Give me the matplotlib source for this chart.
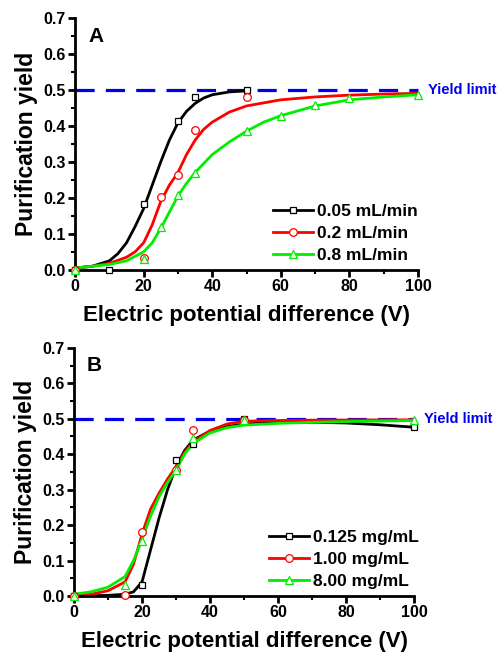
import matplotlib
matplotlib.use("Agg")
import matplotlib.pyplot as plt
from matplotlib.ticker import MultipleLocator

plt.rcParams['font.family'] = ['Liberation Sans', 'DejaVu Sans']
plt.rcParams['font.weight'] = 'bold'

# ---------- Panel A data (flow rate) ----------
a_labels = ["0.05 mL/min", "0.2 mL/min", "0.8 mL/min"]
a_pts_x = [
    [0, 10, 20, 30, 35, 50],
    [0, 20, 25, 30, 35, 50],
    [0, 20, 25, 30, 35, 50, 60, 70, 80, 100],
]
a_pts_y = [
    [0.0, 0.0, 0.183, 0.414, 0.481, 0.498],
    [0.0, 0.034, 0.201, 0.264, 0.389, 0.481],
    [0.0, 0.03, 0.12, 0.208, 0.268, 0.386, 0.426, 0.458, 0.477, 0.486],
]
a_fit_x = [
    [0, 5, 10, 12.5, 15, 17.5, 20, 22.5, 25, 27.5, 30, 32.5, 35, 37.5, 40, 45, 50],
    [0, 5, 10, 15, 17.5, 20, 22.5, 25, 27.5, 30, 32.5, 35, 37.5, 40, 45, 50, 60, 70, 80, 90, 100],
    [0, 10, 15, 20, 22.5, 25, 27.5, 30, 32.5, 35, 40, 45, 50, 55, 60, 70, 80, 90, 100],
]
a_fit_y = [
    [0.005, 0.01, 0.025, 0.045, 0.075, 0.12, 0.17, 0.235, 0.30, 0.36, 0.408, 0.44, 0.462, 0.477, 0.486, 0.494, 0.497],
    [0.005, 0.01, 0.018, 0.035, 0.05, 0.075, 0.125, 0.19, 0.235, 0.27, 0.32, 0.36, 0.39, 0.41, 0.438, 0.455, 0.472, 0.48, 0.485, 0.488, 0.49],
    [0.005, 0.015, 0.025, 0.05, 0.075, 0.115, 0.16, 0.205, 0.24, 0.27, 0.32, 0.355, 0.385, 0.41, 0.428, 0.455, 0.472, 0.48, 0.486],
]

# ---------- Panel B data (concentration) ----------
b_labels = ["0.125 mg/mL", "1.00 mg/mL", "8.00 mg/mL"]
b_pts_x = [
    [0, 20, 30, 35, 50, 100],
    [0, 15, 20, 30, 35, 50],
    [0, 15, 20, 30, 35, 50, 100],
]
b_pts_y = [
    [0.0, 0.032, 0.383, 0.43, 0.498, 0.476],
    [0.0, 0.004, 0.181, 0.355, 0.468, 0.497],
    [0.0, 0.03, 0.155, 0.355, 0.447, 0.497, 0.497],
]
b_fit_x = [
    [0, 10, 15, 17.5, 20, 22.5, 25, 27.5, 30, 32.5, 35, 40, 45, 50, 60, 70, 80, 90, 100],
    [0, 5, 10, 15, 17.5, 20, 22.5, 25, 27.5, 30, 32.5, 35, 40, 45, 50, 60, 70, 100],
    [0, 5, 10, 15, 17.5, 20, 22.5, 25, 27.5, 30, 32.5, 35, 40, 45, 50, 60, 70, 80, 100],
]
b_fit_y = [
    [0.0, 0.002, 0.005, 0.012, 0.04, 0.13, 0.22, 0.30, 0.365, 0.41, 0.44, 0.465, 0.478, 0.485, 0.49, 0.49, 0.488, 0.483, 0.476],
    [0.0, 0.005, 0.015, 0.04, 0.09, 0.175, 0.245, 0.29, 0.33, 0.365, 0.405, 0.435, 0.467, 0.485, 0.493, 0.495, 0.496, 0.497],
    [0.005, 0.012, 0.025, 0.055, 0.1, 0.16, 0.225, 0.28, 0.32, 0.355, 0.4, 0.43, 0.46, 0.475, 0.482, 0.487, 0.49, 0.492, 0.495],
]

yield_limit = 0.5
colors = ["black", "red", "#00ee00"]
markers = ["s", "o", "^"]
msizes = [5, 5.5, 6]
panel_names = ["A", "B"]

fig = plt.figure(figsize=(4.97, 6.55), dpi=100)
axA = fig.add_axes([0.151, 0.588, 0.690, 0.385])
axB = fig.add_axes([0.149, 0.090, 0.684, 0.379])

panels = [
    (axA, a_labels, a_pts_x, a_pts_y, a_fit_x, a_fit_y, 1.02),
    (axB, b_labels, b_pts_x, b_pts_y, b_fit_x, b_fit_y, 1.035),
]

for (ax, labels, px, py, fx, fy, lx), name in zip(panels, panel_names):
    ax.plot([0, 100], [yield_limit, yield_limit], color="#0000ee", lw=2.3,
            dashes=(6, 3.5), zorder=1, clip_on=False)
    for i in range(3):
        ax.plot(fx[i], fy[i], color=colors[i], lw=2.0, zorder=2, clip_on=False)
        ax.plot(px[i], py[i], linestyle="none", marker=markers[i], ms=msizes[i],
                mfc="white", mec=colors[i], mew=0.9, zorder=3, clip_on=False)
        ax.plot([], [], color=colors[i], lw=2.0, marker=markers[i], ms=msizes[i],
                mfc="white", mec=colors[i], mew=0.9, label=labels[i])
    ax.set_xlim(0, 100)
    ax.set_ylim(0, 0.7)
    ax.xaxis.set_major_locator(MultipleLocator(20))
    ax.xaxis.set_minor_locator(MultipleLocator(10))
    ax.yaxis.set_major_locator(MultipleLocator(0.1))
    ax.yaxis.set_minor_locator(MultipleLocator(0.05))
    ax.yaxis.set_major_formatter(plt.FormatStrFormatter('%.1f'))
    for s in ["top", "right"]:
        ax.spines[s].set_visible(False)
    for s in ["left", "bottom"]:
        ax.spines[s].set_linewidth(2.0)
    ax.tick_params(which="major", direction="out", length=5, width=2.0,
                   labelsize=11.5, pad=1.5)
    ax.tick_params(which="minor", direction="out", length=3, width=1.5)
    for lab in ax.get_xticklabels() + ax.get_yticklabels():
        lab.set_fontweight("bold")
    ax.set_xlabel("Electric potential difference (V)", fontsize=16,
                  fontweight="bold", labelpad=8)
    ax.set_ylabel("Purification yield", fontsize=16.5, fontweight="bold",
                  labelpad=4)
    ax.text(0.038, 0.965, name, transform=ax.transAxes, fontsize=15,
            fontweight="bold", va="top", ha="left")
    ax.annotate("Yield limit", xy=(100, yield_limit), xytext=(7, 0),
                textcoords="offset points", color="#0000ee", fontsize=10.5,
                fontweight="bold", va="center", ha="left", annotation_clip=False)
    leg = ax.legend(loc="lower right", bbox_to_anchor=(lx, 0.0),
                    frameon=False, fontsize=12.5, handlelength=2.3,
                    handletextpad=0.25, labelspacing=0.4, borderaxespad=0.0)
    for t in leg.get_texts():
        t.set_fontweight("bold")

fig.savefig("out.png", dpi=100)
